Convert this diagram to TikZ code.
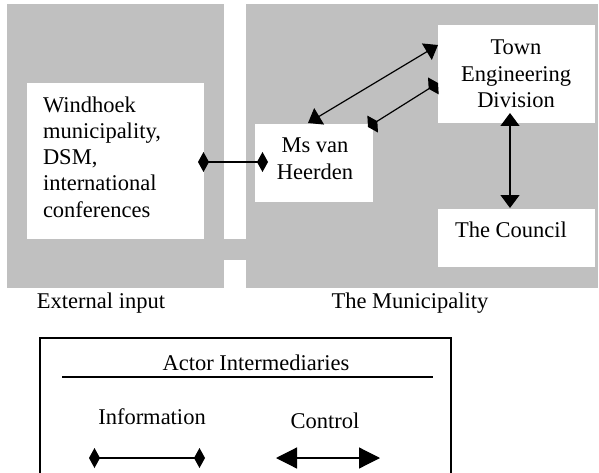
\documentclass[tikz,border=0pt]{standalone}
\usepackage{fontspec}
\setmainfont{Liberation Serif}
\usetikzlibrary{arrows.meta}
\definecolor{panelgray}{RGB}{192,192,192}
\begin{document}
\begin{tikzpicture}[x=1pt,y=-1pt,
  every node/.style={inner sep=0pt, outer sep=0pt,
    font=\fontsize{22.5}{26.25}\selectfont},
  wbox/.style={rectangle, fill=white, anchor=north west},
  lbl/.style={anchor=base},
  info/.style={line width=1.2pt,
    {Diamond[length=11pt,width=20pt]}-{Diamond[length=11pt,width=20pt]}},
  ctrl/.style={line width=1.2pt,
    {Triangle[length=13pt,width=19pt]}-{Triangle[length=13pt,width=19pt]}},
  ctrlbig/.style={line width=1.2pt,
    {Triangle[length=21pt,width=21pt]}-{Triangle[length=21pt,width=21pt]}}
]
\useasboundingbox (0,0) rectangle (599,473);
\fill[white] (0,0) rectangle (599,473);

% grey areas: external input, municipality, and the bridge between them
\fill[panelgray] (7,4) rectangle (224,288);
\fill[panelgray] (246,4) rectangle (598,288);
\fill[panelgray] (224,239) rectangle (246,260);

% actor boxes
\node[wbox, minimum width=177pt, minimum height=156pt] (win) at (27,83) {};
\node[wbox, minimum width=118pt, minimum height=78pt] (ms) at (255,124) {};
\node[wbox, minimum width=157pt, minimum height=98pt] (ted) at (438,25) {};
\node[wbox, minimum width=157pt, minimum height=58pt] (council) at (438,209) {};

% actor names
\node[anchor=north west, align=left] (wintext) at (43,96.6)
  {Windhoek\\municipality,\\DSM,\\international\\conferences};
\node[anchor=north, align=center] (mstext) at (315,138.1) {Ms van\\Heerden};
\node[anchor=north, align=center] (tedtext) at (516,40.1)
  {Town\\Engineering\\Division};
\node[lbl] (counciltext) at (511,237) {The Council};

% area captions
\node[lbl] (extlabel) at (101,308) {External input};
\node[lbl] (munlabel) at (410,308) {The Municipality};

% links between actors
\draw[info] ([xshift=-6pt,yshift=-1pt]win.east) -- ([xshift=13pt,yshift=1pt]ms.west);
\draw[ctrl] ([xshift=-6pt,yshift=1pt]ms.north) -- ([yshift=-20pt]ted.north west);
\draw[info] ([xshift=-5pt,yshift=-3pt]ms.north east) -- ([yshift=-58pt]ted.north west);
\draw[ctrl] ([xshift=-6.5pt,yshift=10pt]ted.south) -- ([xshift=-85pt,yshift=1pt]council.north east);

% legend
\draw[line width=1.2pt] (40,473) -- (40,338) -- (451,338) -- (451,473);
\node[lbl] (legtitle) at (256,370) {Actor Intermediaries};
\draw[line width=1.3pt] (62,377) -- (433,377);
\node[lbl] (leginfo) at (152,424) {Information};
\node[lbl] (legctrl) at (325,428) {Control};
\coordinate (infoA) at (89,458);
\coordinate (infoB) at (205,458);
\draw[info] (infoA) -- (infoB);
\coordinate (ctrlA) at (276,458);
\coordinate (ctrlB) at (380,458);
\draw[ctrlbig] (ctrlA) -- (ctrlB);
\end{tikzpicture}
\end{document}
